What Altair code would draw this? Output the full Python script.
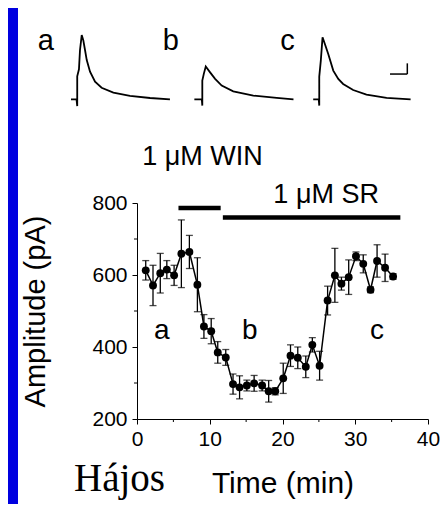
import altair as alt
import pandas as pd

# ---------------- main time course (mean +/- SEM) ----------------
TIME_MIN = [1.2, 2.2, 3.2, 4.1, 5.1, 6.1, 7.2, 8.3, 9.2, 10.2, 11.1, 12.2, 13.2, 14.1,
            15.1, 16.1, 17.2, 18.1, 19.0, 20.1, 21.1, 22.1, 23.2, 24.1, 25.1, 26.2,
            27.2, 28.1, 29.1, 30.1, 31.1, 32.1, 33.0, 34.1, 35.2]
AMP_PA = [613, 571, 605, 615, 599, 659, 664, 573, 457, 444, 385, 371, 297, 288,
          293, 299, 293, 277, 277, 313, 376, 370, 345, 406, 348, 529,
          599, 576, 594, 652, 631, 559, 639, 620, 596]
SEM_PA = [27, 56, 55, 25, 28, 94, 46, 75, 33, 35, 30, 22, 28, 32,
          15, 22, 15, 30, 10, 42, 30, 30, 30, 20, 40, 40,
          75, 18, 48, 12, 25, 8, 45, 38, 8]

# drug application bars
DRUG_NAMES = ["1 \u03bcM WIN", "1 \u03bcM SR"]
DRUG_START = [5.7, 11.8]
DRUG_END = [11.5, 36.2]
DRUG_LEVEL = [786, 760]
DRUG_LABEL_T = [9.0, 26.0]
DRUG_LABEL_AMP = [906, 800]

# phase labels in the plot
PHASE_NAMES = ["a", "b", "c"]
PHASE_T = [3.4, 15.5, 33.0]
PHASE_AMP = [423, 423, 423]

SIGNATURE = ["H\u00e1jos"]
SIGNATURE_T = [-2.4]
SIGNATURE_AMP = [0]

X_TICKS = [0, 10, 20, 30, 40]
X_MINOR = [5, 15, 25, 35]
Y_TICKS = [200, 400, 600, 800]
Y_MINOR = [300, 500, 700]

# ---------------- example sweeps (ms, pA) ----------------
TRACE_A_MS = [0, 3.2, 3.6, 3.6, 4.6, 5.2, 6.2, 7.1, 8.1, 9.1, 11.0, 13.9, 17.7, 24.5, 34.1, 45.7, 57.2]
TRACE_A_PA = [0, 0, -63, 215, 280, 461, 600, 553, 461, 367, 258, 164, 108, 62, 31, 12, 0]
TRACE_B_MS = [0, 4.3, 4.6, 4.6, 5.5, 6.6, 9.1, 12.0, 15.8, 22.5, 34.1, 47.6, 57.3]
TRACE_B_PA = [0, 0, -59, 175, 240, 306, 252, 191, 128, 75, 35, 13, 0]
TRACE_C_MS = [0, 3.2, 3.5, 3.5, 4.4, 5.4, 6.8, 8.7, 11.6, 14.5, 17.3, 23.1, 30.8, 42.4, 56.3]
TRACE_C_PA = [0, 0, -59, 212, 362, 580, 514, 424, 268, 190, 143, 87, 44, 13, 0]
SWEEP_NAMES = ["a", "b", "c"]
SWEEP_OFFSET_MS = [0, 71.3, 140.0]
SWEEP_LABEL_MS = [-14.6, 57.7, 125.1]
SWEEP_LABEL_PA = [461, 461, 461]
SCALEBAR_MS = 10
SCALEBAR_PA = 100
SCALEBAR_END_MS = 194.4
SCALEBAR_BASE_PA = 236

BLACK = "black"
SANS = "Liberation Sans"
W, H = 291, 216

# ---------------- frames ----------------
df = pd.DataFrame({"t": TIME_MIN, "amp": AMP_PA, "sem": SEM_PA})
df["lo"] = df["amp"] - df["sem"]
df["hi"] = df["amp"] + df["sem"]

drug_df = pd.DataFrame({"name": DRUG_NAMES, "start": DRUG_START, "end": DRUG_END,
                        "level": DRUG_LEVEL, "lt": DRUG_LABEL_T, "la": DRUG_LABEL_AMP})
phase_df = pd.DataFrame({"name": PHASE_NAMES, "t": PHASE_T, "amp": PHASE_AMP})
sig_df = pd.DataFrame({"name": SIGNATURE, "t": SIGNATURE_T, "amp": SIGNATURE_AMP})
xminor_df = pd.DataFrame({"t": X_MINOR})
yminor_df = pd.DataFrame({"amp": Y_MINOR})

rows = []
for name, off, ms, pa in zip(SWEEP_NAMES, SWEEP_OFFSET_MS,
                             [TRACE_A_MS, TRACE_B_MS, TRACE_C_MS],
                             [TRACE_A_PA, TRACE_B_PA, TRACE_C_PA]):
    for i, (m, p) in enumerate(zip(ms, pa)):
        rows.append({"sweep": name, "i": i, "ms": off + m, "pA": p})
trace_df = pd.DataFrame(rows)
sweep_lab_df = pd.DataFrame({"name": SWEEP_NAMES, "ms": SWEEP_LABEL_MS, "pA": SWEEP_LABEL_PA})
sb_df = pd.DataFrame({
    "x1": [SCALEBAR_END_MS - SCALEBAR_MS, SCALEBAR_END_MS],
    "x2": [SCALEBAR_END_MS, SCALEBAR_END_MS],
    "y1": [SCALEBAR_BASE_PA, SCALEBAR_BASE_PA],
    "y2": [SCALEBAR_BASE_PA, SCALEBAR_BASE_PA + SCALEBAR_PA],
})

# ---------------- scales / axes ----------------
xs = alt.Scale(domain=[0, 40], nice=False, zero=False)
ys = alt.Scale(domain=[200, 800], nice=False, zero=False)
x_axis = alt.Axis(values=X_TICKS, title="Time (min)", grid=False, format="d",
                  tickSize=5, tickColor=BLACK, tickWidth=1, domainColor=BLACK, domainWidth=1,
                  labelFont=SANS, labelFontSize=21, labelColor=BLACK, labelPadding=4,
                  labelFlush=False, labelOverlap=False,
                  titleFont=SANS, titleFontSize=30, titleFontWeight="normal",
                  titleColor=BLACK, titlePadding=19)
y_axis = alt.Axis(values=Y_TICKS, title="Amplitude (pA)", grid=False, format="d",
                  tickSize=5, tickColor=BLACK, tickWidth=1, domainColor=BLACK, domainWidth=1,
                  labelFont=SANS, labelFontSize=21, labelColor=BLACK, labelPadding=5,
                  labelFlush=False, labelOverlap=False,
                  titleFont=SANS, titleFontSize=29, titleFontWeight="normal",
                  titleColor=BLACK, titlePadding=41)


def X(f):
    return alt.X(f, type="quantitative", scale=xs, axis=x_axis)


def Y(f):
    return alt.Y(f, type="quantitative", scale=ys, axis=y_axis)


base = alt.Chart(df)

blue = alt.Chart(pd.DataFrame({"k": [0]})).mark_rect(color="#0000e0").encode(
    x=alt.value(-129), x2=alt.value(-119), y=alt.value(-195), y2=alt.value(H + 90))

minor_x = alt.Chart(xminor_df).mark_rule(color=BLACK, strokeWidth=1).encode(
    x=X("t"), y=alt.value(H), y2=alt.value(H + 3))
minor_y = alt.Chart(yminor_df).mark_rule(color=BLACK, strokeWidth=1).encode(
    y=Y("amp"), x=alt.value(-3), x2=alt.value(0))

bars = alt.Chart(drug_df).mark_rule(color=BLACK, strokeWidth=4.5, strokeCap="butt").encode(
    x=X("start"), x2=alt.X2("end"), y=Y("level"))
drug_text = alt.Chart(drug_df).mark_text(font=SANS, fontSize=27, color=BLACK, align="center",
                                         baseline="alphabetic").encode(
    x=X("lt"), y=Y("la"), text="name:N")

err = base.mark_rule(color=BLACK, strokeWidth=1.3).encode(x=X("t"), y=Y("lo"), y2=alt.Y2("hi"))
cap_lo = base.mark_tick(orient="horizontal", color=BLACK, thickness=1.3, size=7).encode(
    x=X("t"), y=Y("lo"))
cap_hi = base.mark_tick(orient="horizontal", color=BLACK, thickness=1.3, size=7).encode(
    x=X("t"), y=Y("hi"))
line = base.mark_line(color=BLACK, strokeWidth=1.5).encode(x=X("t"), y=Y("amp"))
points = base.mark_circle(size=62, color=BLACK, opacity=1).encode(x=X("t"), y=Y("amp"))

phase_text = alt.Chart(phase_df).mark_text(font=SANS, fontSize=28, color=BLACK, align="center",
                                           baseline="alphabetic").encode(
    x=X("t"), y=Y("amp"), text="name:N")
sig_text = alt.Chart(sig_df).mark_text(font="Liberation Serif", fontSize=39, color=BLACK,
                                       align="center", baseline="alphabetic").encode(
    x=X("t"), y=Y("amp"), text="name:N")

main = alt.layer(blue, minor_x, minor_y, bars, err, cap_lo, cap_hi, line, points,
                 drug_text, phase_text, sig_text)

# ---------------- sweeps layer ----------------
xt = alt.Scale(domain=[0, 200], range=[-66, 280], nice=False, zero=False)
yt = alt.Scale(domain=[0, 600], range=[-103.7, -167.9], nice=False, zero=False)

trace_lines = alt.Chart(trace_df).mark_line(color=BLACK, strokeWidth=1.8).encode(
    x=alt.X("ms:Q", scale=xt, axis=None),
    y=alt.Y("pA:Q", scale=yt, axis=None),
    detail="sweep:N", order="i:Q")
scalebar = alt.Chart(sb_df).mark_rule(color=BLACK, strokeWidth=1.5).encode(
    x=alt.X("x1:Q", scale=xt, axis=None), x2="x2:Q",
    y=alt.Y("y1:Q", scale=yt, axis=None), y2="y2:Q")
sweep_labels = alt.Chart(sweep_lab_df).mark_text(font=SANS, fontSize=29, color=BLACK,
                                                 align="center", baseline="alphabetic").encode(
    x=alt.X("ms:Q", scale=xt, axis=None),
    y=alt.Y("pA:Q", scale=yt, axis=None), text="name:N")
traces = alt.layer(trace_lines, scalebar, sweep_labels)

chart = alt.layer(main, traces).resolve_scale(x="independent", y="independent").properties(
    width=W, height=H,
    autosize=alt.AutoSizeParams(type="none"),
    padding={"left": 129, "top": 195, "right": 12, "bottom": 85},
    background="white",
).configure_view(stroke=None)

chart.save("out.html", embed_options={"renderer": "svg", "actions": False})
